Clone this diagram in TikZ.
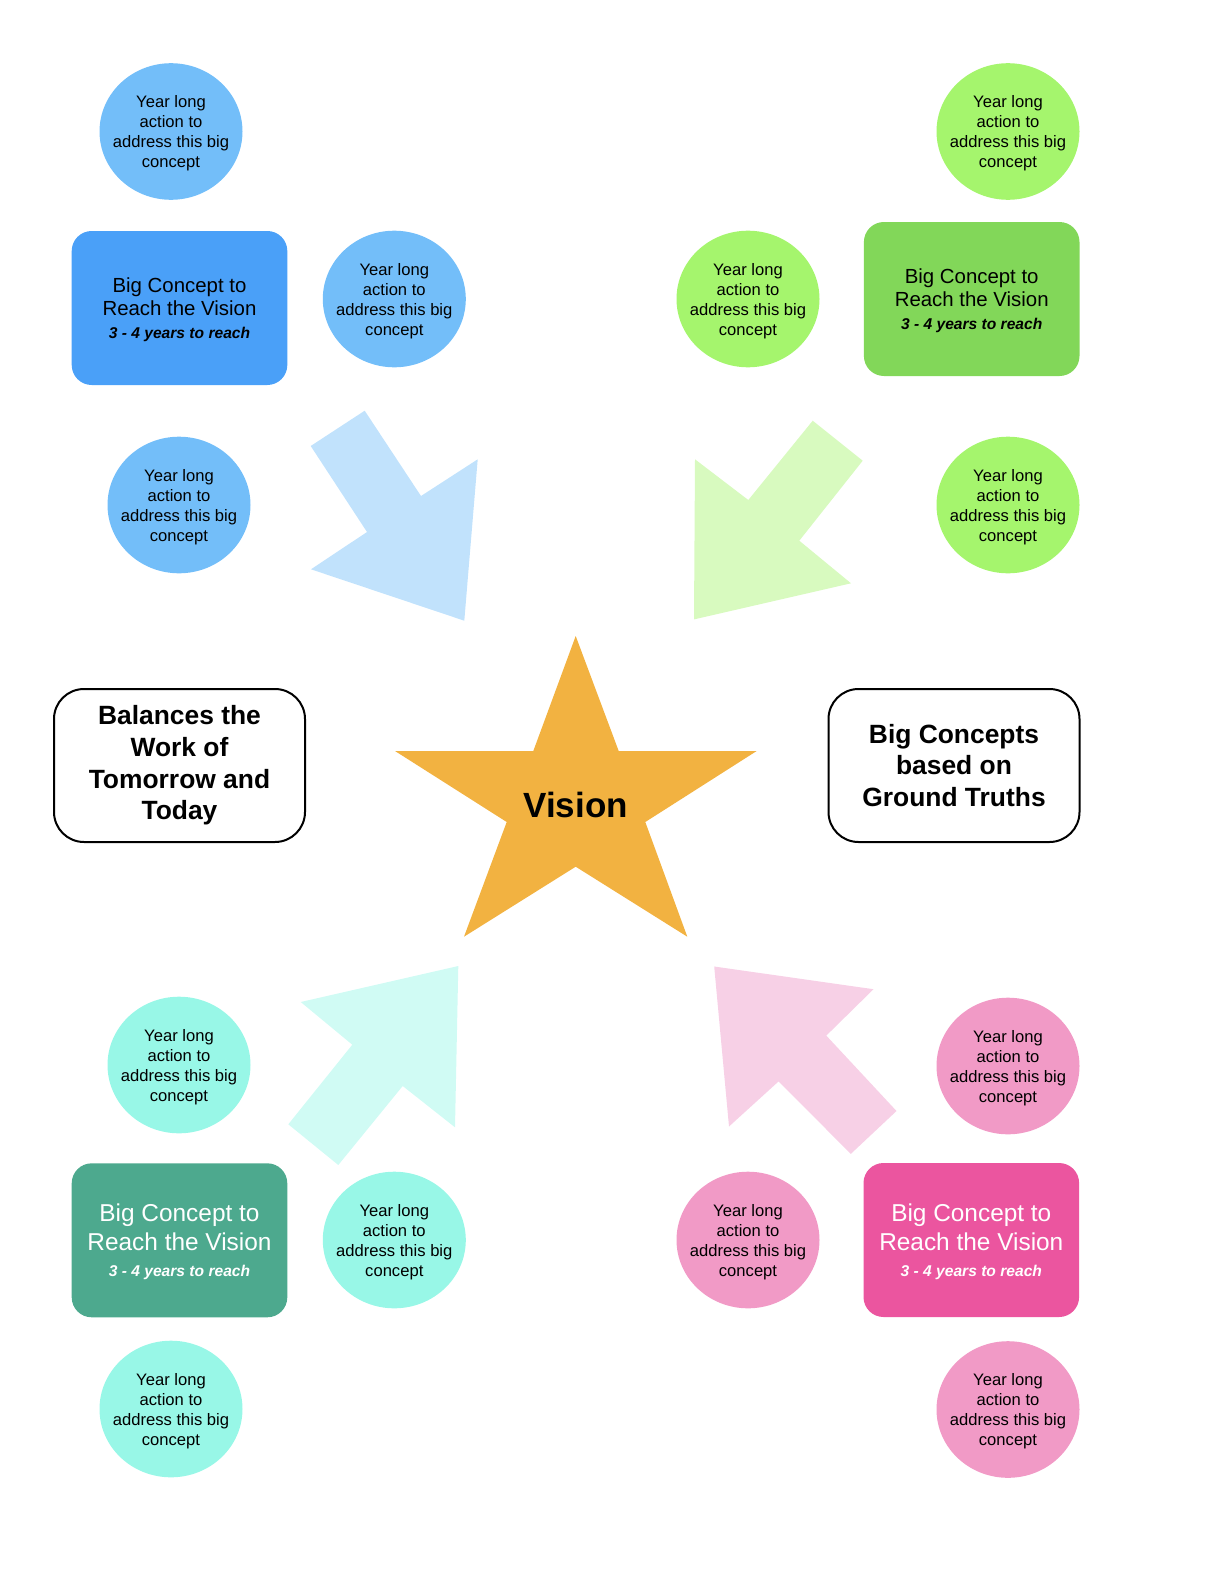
\documentclass[tikz,border=0pt]{standalone}
\usepackage{fontspec}
\setmainfont{Liberation Sans}
\usetikzlibrary{shapes.geometric,positioning}

\definecolor{bluec}{HTML}{73BEF9}
\definecolor{blueb}{HTML}{4AA0F8}
\definecolor{bluea}{HTML}{C1E2FC}
\definecolor{greenc}{HTML}{A5F56D}
\definecolor{greenb}{HTML}{82D759}
\definecolor{greena}{HTML}{D8FABF}
\definecolor{tealc}{HTML}{98F7E7}
\definecolor{tealb}{HTML}{4DA98E}
\definecolor{teala}{HTML}{D0FBF4}
\definecolor{pinkc}{HTML}{F19AC6}
\definecolor{pinkb}{HTML}{EB559F}
\definecolor{pinka}{HTML}{F7D0E6}
\definecolor{starc}{HTML}{F2B241}

\newcommand{\yl}{Year long\\action to\\address this big\\concept}
\newcommand{\yrs}{{\fontsize{7.8}{9}\selectfont\bfseries\itshape 3 - 4 years to reach}}

\begin{document}
\begin{tikzpicture}[x=0.5pt,y=-0.5pt,
  act/.style={ellipse,minimum width=71.5pt,minimum height=68.3pt,inner xsep=-6pt,inner ysep=0pt,text depth=-2pt,align=center,font=\fontsize{8.3}{10}\selectfont},
  big/.style={rounded corners=10pt,minimum width=107.8pt,minimum height=77pt,inner sep=0pt,text depth=-3.2pt,align=center,font=\fontsize{10.2}{11.8}\selectfont},
  bigw/.style={big,text=white,text depth=-6pt,font=\fontsize{12.2}{14.5}\selectfont},
  side/.style={draw=black,line width=1pt,rounded corners=15pt,minimum width=125.5pt,minimum height=76.5pt,inner sep=0pt,align=center,font=\fontsize{13.2}{15.8}\selectfont\bfseries}]
                      \useasboundingbox (0,0) rectangle (1224,1584);

                      \fill[bluea] (310.7,446) -- (364.7,410.7) -- (421,496) -- (477.7,459.3) -- (464.3,620.7) -- (311,569.3) -- (367,532) -- cycle;
                      \fill[greena] (812.7,420.7) -- (862.7,460.7) -- (799.3,540.7) -- (851,583.3) -- (694,619.4) -- (695,459.3) -- (748.3,500) -- cycle;
                      \fill[teala] (338.3,1165) -- (288.3,1124.3) -- (352.3,1044.7) -- (300.7,1002) -- (458.3,966) -- (455,1127.3) -- (402.7,1086) -- cycle;
                      \fill[pinka] (850.8,1153.9) -- (896.5,1111) -- (826.3,1035.6) -- (873.5,989.2) -- (714.2,966.5) -- (729,1126.5) -- (778.6,1081.4) -- cycle;

                      \fill[starc] (575.7,636) -- (618.7,751) -- (756.7,751) -- (645.3,822) -- (687.3,936.7) -- (575.7,866.7) -- (464,936.7) -- (506.7,822) -- (395,751) -- (533.3,751) -- cycle;
                      \node[font=\fontsize{17.5}{20}\selectfont\bfseries] (v) at (575.7,805) {Vision};

                      \node[act,fill=bluec] (c1) at (171,131.5) {\yl};
                      \node[act,fill=bluec] (c2) at (394.3,299) {\yl};
                      \node[act,fill=bluec] (c3) at (179,505) {\yl};
                      \node[big,fill=blueb] (b1) at (179.5,308) {Big Concept to\\Reach the Vision\\[-0.6pt]\yrs};

                      \node[act,fill=greenc] (c4) at (1008,131.5) {\yl};
                      \node[act,fill=greenc] (c5) at (748,299) {\yl};
                      \node[act,fill=greenc] (c6) at (1008,505) {\yl};
                      \node[big,fill=greenb] (b2) at (971.7,299) {Big Concept to\\Reach the Vision\\[-0.6pt]\yrs};

                      \node[act,fill=tealc] (c7) at (179,1065) {\yl};
                      \node[act,fill=tealc] (c8) at (394.3,1240) {\yl};
                      \node[act,fill=tealc] (c9) at (171,1409) {\yl};
                      \node[bigw,fill=tealb] (b3) at (179.5,1240.3) {Big Concept to\\Reach the Vision\\[-1.8pt]\yrs};

                      \node[act,fill=pinkc] (c10) at (1008,1066) {\yl};
                      \node[act,fill=pinkc] (c11) at (748,1240) {\yl};
                      \node[act,fill=pinkc] (c12) at (1008,1409.5) {\yl};
                      \node[bigw,fill=pinkb] (b4) at (971.3,1240) {Big Concept to\\Reach the Vision\\[-1.8pt]\yrs};

                      \node[side] (s1) at (179.5,765.5) {Balances the\\Work of\\Tomorrow and\\Today};
                      \node[side] (s2) at (954,765.5) {Big Concepts\\based on\\Ground Truths};
                    \end{tikzpicture}
\end{document}
